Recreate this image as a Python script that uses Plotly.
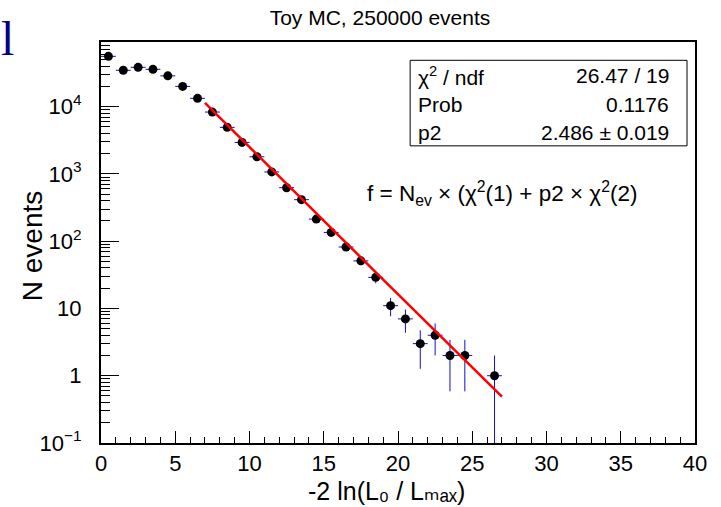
import plotly.graph_objects as go
import numpy as np

# ---- data ----
bin_centers = [0.5, 1.5, 2.5, 3.5, 4.5, 5.5, 6.5, 7.5, 8.5, 9.5, 10.5, 11.5, 12.5,
               13.5, 14.5, 15.5, 16.5, 17.5, 18.5, 19.5, 20.5, 21.5, 22.5, 23.5,
               24.5, 26.5]
counts = [56000, 34700, 38400, 35900, 28700, 20000, 13300, 8310, 4920, 2940, 1800,
          1070, 624, 414, 213, 135, 82, 51, 29, 11, 7, 3, 4, 2, 2, 1]
bin_half_width = 0.5

fit_x = [7, 9, 11, 13, 15, 17, 19, 21, 23, 25, 27]
fit_y = [11350, 4123, 1503, 549, 200.8, 73.5, 26.9, 9.88, 3.62, 1.33, 0.488]

title_text = "Toy MC, 250000 events"
x_title = "-2 ln(L₀ / Lₘₐₓ)"
y_title = "N events"
stat_labels = ["χ<sup>2</sup> / ndf", "Prob", "p2"]
stat_values = ["26.47 / 19", "0.1176", "2.486 ± 0.019"]
formula = "f = N<sub>ev</sub> × (χ<sup>2</sup>(1) + p2 × χ<sup>2</sup>(2)"

y_tickvals = [0.1, 1, 10, 100, 1000, 10000]
y_ticktext = ["10<sup>−1</sup>", "1", "10", "10<sup>2</sup>", "10<sup>3</sup>", "10<sup>4</sup>"]

# ---- derived ----
cnt = np.array(counts, dtype=float)
err = np.sqrt(cnt)
err_minus = np.minimum(err, cnt * 0.99999)

FONT = "Liberation Sans, Arial, Helvetica, DejaVu Sans, sans-serif"

fig = go.Figure()
fig.add_trace(go.Scatter(
    x=bin_centers, y=counts, mode="markers",
    marker=dict(symbol="circle", size=9, color="black"),
    error_x=dict(type="constant", value=bin_half_width, color="#1010c8", thickness=1, width=0),
    error_y=dict(type="data", array=err, arrayminus=err_minus, symmetric=False,
                 color="#1010c8", thickness=1, width=0),
    showlegend=False,
))
fig.add_trace(go.Scatter(
    x=fit_x, y=fit_y, mode="lines",
    line=dict(color="#ff0000", width=2.5), showlegend=False,
))

minor_y = [k * 10.0 ** e for e in range(-1, 5) for k in range(2, 10)]

PX_L, PX_R, PX_T, PX_B = 100.7, 695.0, 41.7, 442.5
W, H = PX_R - PX_L, PX_B - PX_T


def px(x):
    return (x - PX_L) / W


def py(y):
    return (PX_B - y) / H


fig.update_layout(
    width=721, height=507,
    margin=dict(l=101, r=26, t=42, b=64),
    paper_bgcolor="white", plot_bgcolor="white",
    font=dict(family=FONT, color="black"),
    title=dict(text=title_text, x=380 / 721, xanchor="center",
               y=1 - 18 / 507, yanchor="middle", font=dict(size=21, family=FONT)),
    xaxis=dict(range=[0, 40], showgrid=False, zeroline=False,
               showline=True, linecolor="black", linewidth=2, mirror=True,
               ticks="inside", ticklen=12, tickcolor="black", tickwidth=1,
               tickmode="linear", tick0=0, dtick=5,
               minor=dict(ticks="inside", ticklen=6, tickcolor="black", dtick=1, showgrid=False),
               tickfont=dict(size=22, family=FONT), ticklabelstandoff=0),
    yaxis=dict(type="log", range=[-1, 4.961], showgrid=False, zeroline=False,
               showline=True, linecolor="black", linewidth=2, mirror=True,
               ticks="inside", ticklen=18, tickcolor="black", tickwidth=1,
               tickmode="array", tickvals=y_tickvals, ticktext=y_ticktext,
               minor=dict(ticks="inside", ticklen=9, tickcolor="black",
                          tickmode="array", tickvals=minor_y, showgrid=False),
               tickfont=dict(size=22, family=FONT), ticklabelstandoff=13),
)

# axis titles
fig.add_annotation(text=x_title, xref="paper", yref="paper",
                   x=px(386), y=py(490), xanchor="center", yanchor="middle",
                   showarrow=False, font=dict(size=25, family=FONT))
fig.add_annotation(text=y_title, xref="paper", yref="paper", textangle=-90,
                   x=px(32.5), y=py(245), xanchor="center", yanchor="middle",
                   showarrow=False, font=dict(size=28, family=FONT))

# stats box
fig.add_shape(type="rect", xref="paper", yref="paper",
              x0=px(410), x1=px(687), y0=py(145.5), y1=py(60),
              line=dict(color="black", width=1), fillcolor="white", layer="above")
row_y = [75.5, 104, 132]
for lab, val, yy in zip(stat_labels, stat_values, row_y):
    fig.add_annotation(text=lab, xref="paper", yref="paper",
                       x=px(416), y=py(yy), xanchor="left", yanchor="middle",
                       showarrow=False, font=dict(size=21, family=FONT))
    fig.add_annotation(text=val, xref="paper", yref="paper",
                       x=px(671), y=py(yy), xanchor="right", yanchor="middle",
                       showarrow=False, font=dict(size=21, family=FONT))

fig.add_annotation(text=formula, xref="paper", yref="paper",
                   x=px(501.5), y=py(193), xanchor="center", yanchor="middle",
                   showarrow=False, font=dict(size=22.5, family=FONT))

# stray glyph at top-left
fig.add_annotation(text="l", xref="paper", yref="paper",
                   x=px(7), y=py(38), xanchor="center", yanchor="middle",
                   showarrow=False,
                   font=dict(size=48, family="Liberation Serif, Times New Roman, serif",
                             color="#000080"))

fig.write_html("out.html")
